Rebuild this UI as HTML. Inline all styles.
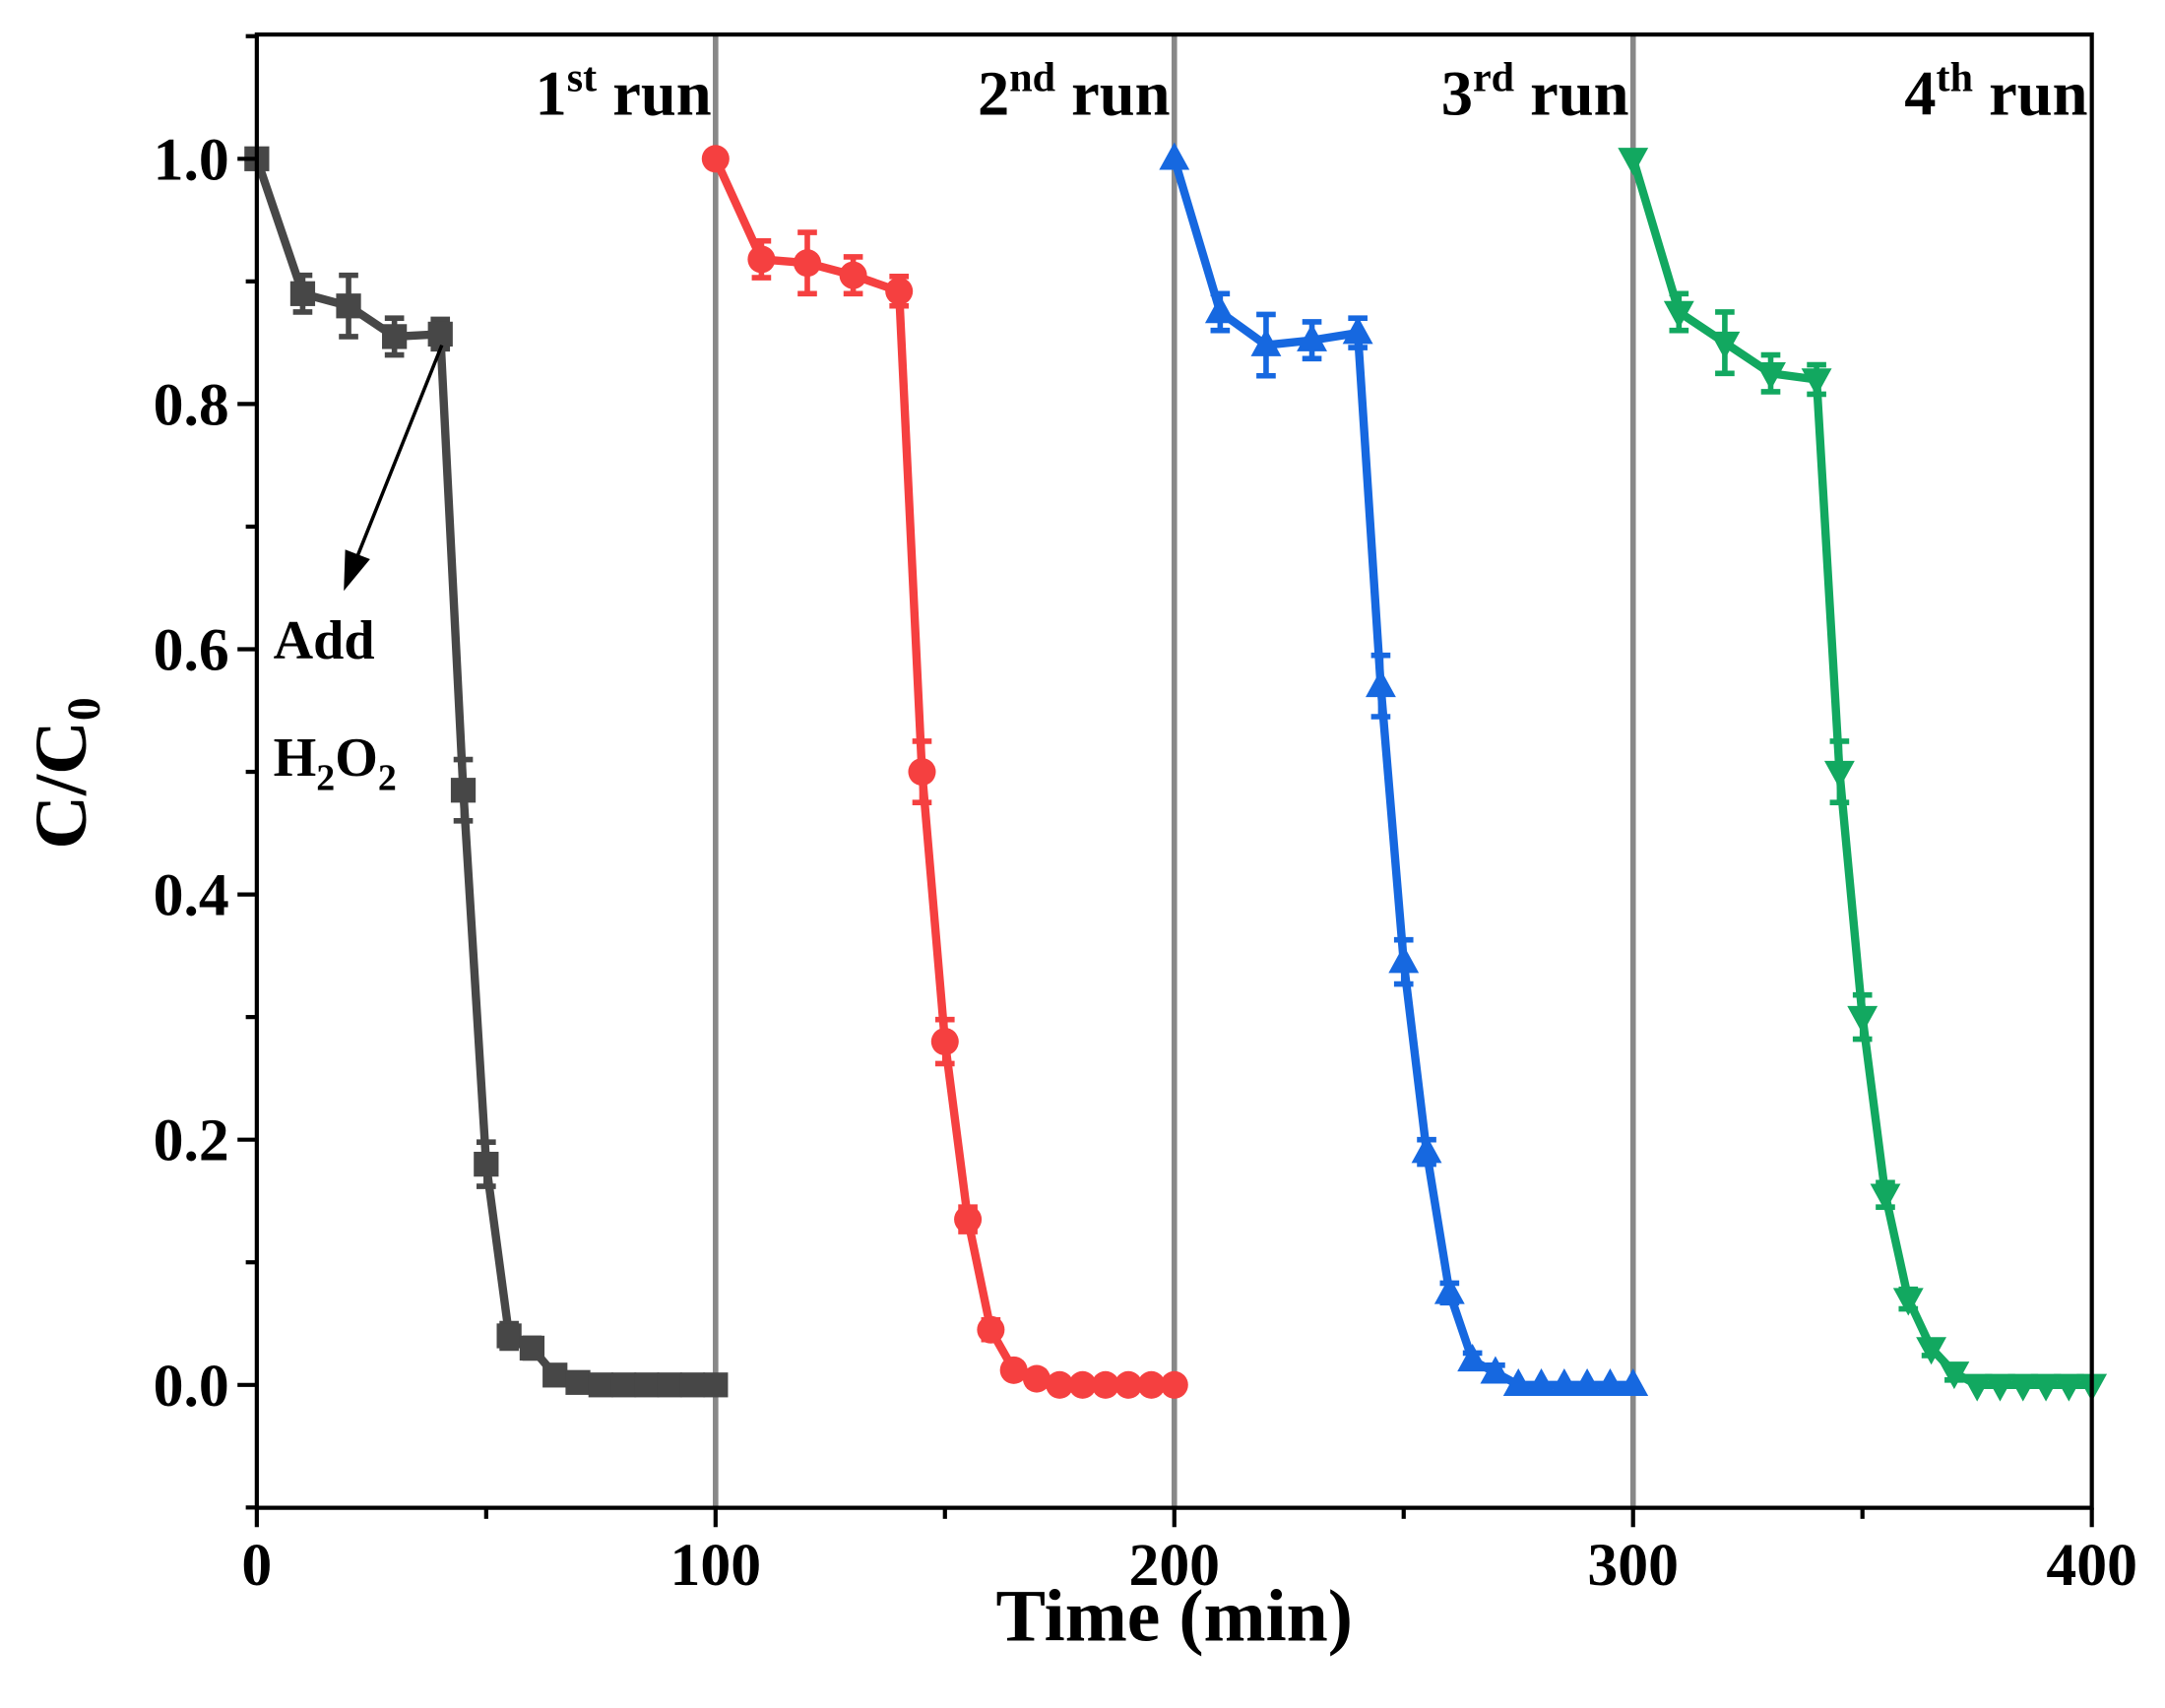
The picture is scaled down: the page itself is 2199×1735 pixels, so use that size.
<!DOCTYPE html>
<html><head><meta charset="utf-8"><style>
html,body{margin:0;padding:0;background:#fff;}
svg{display:block;font-family:"Liberation Serif",serif;font-weight:bold;}
</style></head><body>
<svg id="chart" width="2199" height="1735" viewBox="0 0 1568 1237" preserveAspectRatio="none" xmlns="http://www.w3.org/2000/svg">
<rect width="1568" height="1237" fill="#fff"/>
<g id="marks"></g>
<g id="axes"></g>
</svg>
<script>
const runTimes = [
  [0,10,20,30,40,45,50,55,60,65,70,75,80,85,90,95,100],
  [100,110,120,130,140,145,150,155,160,165,170,175,180,185,190,195,200],
  [200,210,220,230,240,245,250,255,260,265,270,275,280,285,290,295,300],
  [300,310,320,330,340,345,350,355,360,365,370,375,380,385,390,395,400]
];
const run1Values = [1.0,0.89,0.88,0.855,0.857,0.485,0.18,0.04,0.03,0.008,0.002,0,0,0,0,0,0];
const run2Values = [1.0,0.918,0.915,0.905,0.892,0.5,0.28,0.135,0.045,0.012,0.005,0,0,0,0,0,0];
const run3Values = [1.0,0.875,0.848,0.852,0.858,0.57,0.345,0.19,0.075,0.02,0.01,0,0,0,0,0,0];
const run4Values = [1.0,0.875,0.85,0.825,0.82,0.5,0.3,0.155,0.07,0.03,0.01,0,0,0,0,0,0];
const errorValues = [0,0.015,0.025,0.015,0.012,0.025,0.018,0.01,0.008,0.006,0.006,0,0,0,0,0,0];
const xTicks = [0,100,200,300,400];
const yTicks = [0.0,0.2,0.4,0.6,0.8,1.0];
const runLabels = ["1","2","3","4"];
const runSups = ["st","nd","rd","th"];
const runColors = ["#474747","#f54040","#1668e0","#12a860"];

const L=186,R=1515,T=25,B=1092;
const X=v=>L+(v/400)*(R-L);
const Y=v=>1003-(v)*888;
const NS="http://www.w3.org/2000/svg";
function mk(tag,attrs,parent){const e=document.createElementNS(NS,tag);for(const k in attrs)e.setAttribute(k,attrs[k]);parent.appendChild(e);return e;}
const marks=document.getElementById('marks'), axes=document.getElementById('axes');

[100,200,300].forEach(t=>{
  const l=mk('line',{x1:X(t),x2:X(t),y1:T,y2:B,stroke:'#888','stroke-width':4},marks);
  
  
});

const allVals=[run1Values,run2Values,run3Values,run4Values];
allVals.forEach((vals,ri)=>{
  const c=runColors[ri], ts=runTimes[ri];
  const g=mk('g',{},marks);
  
  
  const pts=ts.map((t,i)=>X(t)+','+Y(vals[i])).join(' ');
  mk('polyline',{points:pts,fill:'none',stroke:c,'stroke-width':6,'stroke-linejoin':'round'},g);
  ts.forEach((t,i)=>{
    const x=X(t),y=Y(vals[i]),e=errorValues[i]*888;
    if(e>0){
      mk('line',{x1:x,x2:x,y1:y-e,y2:y+e,stroke:c,'stroke-width':4},g);
      mk('line',{x1:x-7,x2:x+7,y1:y-e,y2:y-e,stroke:c,'stroke-width':4},g);
      mk('line',{x1:x-7,x2:x+7,y1:y+e,y2:y+e,stroke:c,'stroke-width':4},g);
    }
    let m;
    if(ri===0) m=mk('rect',{x:x-9,y:y-9,width:18,height:18,fill:c},g);
    else if(ri===1) m=mk('circle',{cx:x,cy:y,r:10,fill:c},g);
    else if(ri===2) m=mk('polygon',{points:`${x},${y-12} ${x-11},${y+8} ${x+11},${y+8}`,fill:c},g);
    else m=mk('polygon',{points:`${x},${y+12} ${x-11},${y-8} ${x+11},${y-8}`,fill:c},g);
    
    
  });
});

const f=mk('rect',{x:L,y:T,width:R-L,height:B-T,fill:'none',stroke:'#000','stroke-width':3},axes);


for(let t=0;t<=400;t+=50){
  mk('line',{x1:X(t),x2:X(t),y1:B,y2:B+(t%100===0?14:8),stroke:'#000','stroke-width':3},axes);
}
xTicks.forEach(t=>{
  const tx=mk('text',{x:X(t),y:B+56,'font-size':44,'text-anchor':'middle'},axes);
  tx.textContent=t;
  
  
});
for(let i=-1;i<=12;i++){
  const v=i/10; if(Y(v)>B||Y(v)<T)continue;
  mk('line',{x1:L,x2:L-(i%2===0?14:8),y1:Y(v),y2:Y(v),stroke:'#000','stroke-width':3},axes);
}
yTicks.forEach(v=>{
  const tx=mk('text',{x:L-20,y:Y(v)+15,'font-size':44,'text-anchor':'end'},axes);
  tx.textContent=v.toFixed(1);
  
  
});
const xt=mk('text',{x:(L+R)/2,y:1188,'font-size':54,'text-anchor':'middle'},axes);
xt.textContent='Time (min)';


const yt=mk('text',{x:0,y:0,'font-size':54,'text-anchor':'middle',transform:'translate(62,560) rotate(-90)'},axes);
yt.innerHTML='C/C<tspan font-size="34" dy="10">0</tspan>';



runLabels.forEach((n,i)=>{
  const tx=mk('text',{x:X(100*i+100)-3,y:83,'font-size':46,'text-anchor':'end'},axes);
  tx.innerHTML=n+'<tspan font-size="30" dy="-17">'+runSups[i]+'</tspan><tspan dy="17"> run</tspan>';
  
  
});

const ag=mk('g',{},axes);


mk('line',{x1:320,y1:250,x2:258,y2:405,stroke:'#000','stroke-width':2.5},ag);
mk('polygon',{points:'249,428 250,398 268,405',fill:'#000'},ag);
const a1=mk('text',{x:198,y:477,'font-size':40},ag);a1.textContent='Add';
const a2=mk('text',{x:198,y:562,'font-size':40},ag);
a2.innerHTML='H<tspan font-size="27" dy="10">2</tspan><tspan dy="-10">O</tspan><tspan font-size="27" dy="10">2</tspan>';
</script>
</body></html>
